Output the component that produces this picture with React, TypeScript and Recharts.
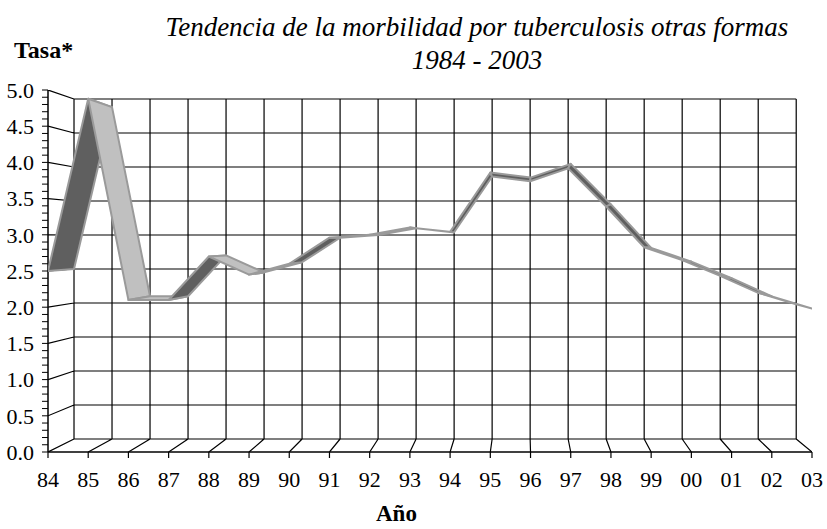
import { ComposedChart, Line, XAxis, YAxis } from "recharts";

// años (eje X) y tasa de morbilidad
const years = ["84", "85", "86", "87", "88", "89", "90", "91", "92", "93", "94", "95", "96", "97", "98", "99", "00", "01", "02", "03"];
const tasa = [2.5, 4.88, 2.1, 2.1, 2.7, 2.45, 2.6, 2.96, 3.0, 3.1, 3.04, 3.86, 3.79, 3.98, 3.42, 2.82, 2.63, 2.4, 2.15, 1.98];
const majorTicks = [0, 0.5, 1, 1.5, 2, 2.5, 3, 3.5, 4, 4.5, 5];
const minorTicks = Array.from({ length: 51 }, (_, i) => i / 10);

const W = 827;
const H = 529;
const FONT = "Liberation Serif";

// simple 3D projection: z=0 front wall, z=1 back wall (in front-axis units)
const DX0 = 0.6468;
const DXK = 0.0547;
const DY0 = 0.1796;
const DYK = 0.0608;
const P = (i: number, v: number, z: number) => ({
  x: i + z * (DX0 - DXK * i),
  y: v + z * (DY0 - DYK * v),
});

type Pt = { x: number; y: number | null };

// wall, side and floor grid as one broken polyline
const segments: [Pt, Pt][] = [];
majorTicks.forEach((v) => segments.push([P(0, v, 1), P(19, v, 1)]));
years.forEach((_, i) => segments.push([P(i, 0, 1), P(i, 5, 1)]));
majorTicks.forEach((v) => segments.push([P(0, v, 0), P(0, v, 1)]));
years.forEach((_, i) => segments.push([P(i, 0, 0), P(i, 0, 1)]));
const gridData: Pt[] = [];
segments.forEach(([a, b]) => {
  gridData.push(a, b, { x: b.x, y: null });
});

// ribbon faces: 4 vertices per segment
const ribbonData: Pt[] = [];
for (let i = 0; i < tasa.length - 1; i++) {
  ribbonData.push(P(i, tasa[i], 0), P(i + 1, tasa[i + 1], 0), P(i + 1, tasa[i + 1], 1), P(i, tasa[i], 1));
}

const renderFace = (props: any) => {
  const { index, points } = props;
  if (index % 4 !== 0 || !points) return <g key={`f-${index}`} />;
  const q = points.slice(index, index + 4);
  if (q.length < 4) return <g key={`f-${index}`} />;
  const ax = q[1].x - q[0].x;
  const ay = q[1].y - q[0].y;
  const bx = q[3].x - q[0].x;
  const by = q[3].y - q[0].y;
  const cross = ax * by - ay * bx;
  const fill = cross > 0 ? "#5f5f5f" : "#c0c0c0";
  return (
    <polygon
      key={`f-${index}`}
      points={q.map((p: any) => `${p.x},${p.y}`).join(" ")}
      fill={fill}
      stroke="#9a9a9a"
      strokeWidth={2}
      strokeLinejoin="round"
    />
  );
};

const YTick = (props: any) => {
  const { x, y, payload } = props;
  const v = payload.value as number;
  if (Math.round(v * 10) % 5 !== 0) return <g />;
  return (
    <text x={x - 2} y={y} dy="0.35em" textAnchor="end" style={{ fontFamily: FONT, fontSize: 22 }} fill="#000">
      {v.toFixed(1)}
    </text>
  );
};

const XTick = (props: any) => {
  const { x, y, payload } = props;
  return (
    <text x={x} y={y} dy="0.71em" textAnchor="middle" style={{ fontFamily: FONT, fontSize: 22 }} fill="#000">
      {years[payload.value]}
    </text>
  );
};

export default function App() {
  return (
    <div style={{ position: "absolute", left: 0, top: 0, width: W, height: H, background: "#fff", fontFamily: FONT }}>
      <div style={{ position: "absolute", left: 0, width: 954, top: 11, textAlign: "center", fontStyle: "italic", fontSize: 27, lineHeight: "33px" }}>
        Tendencia de la morbilidad por tuberculosis otras formas
        <br />
        1984 - 2003
      </div>
      <div style={{ position: "absolute", left: 14, top: 38, fontWeight: "bold", fontSize: 24, lineHeight: "24px" }}>Tasa*</div>
      <div style={{ position: "absolute", left: 376, top: 504, fontWeight: "bold", fontSize: 23, lineHeight: "20px" }}>Año</div>
      <ComposedChart width={W} height={H} margin={{ top: 90, right: 15, bottom: 47, left: 0 }}>
        <XAxis
          type="number"
          dataKey="x"
          domain={[0, 19]}
          ticks={years.map((_, i) => i)}
          interval={0}
          allowDataOverflow
          height={30}
          tickSize={6}
          tickMargin={13}
          tick={<XTick />}
          axisLine={{ stroke: "#000", strokeWidth: 1.5 }}
          tickLine={{ stroke: "#000", strokeWidth: 1.2 }}
        />
        <YAxis
          type="number"
          domain={[0, 5]}
          ticks={minorTicks}
          interval={0}
          allowDataOverflow
          width={48}
          tickSize={6}
          tickMargin={6}
          tick={<YTick />}
          axisLine={{ stroke: "#000", strokeWidth: 1.5 }}
          tickLine={{ stroke: "#000", strokeWidth: 1 }}
        />
        <Line
          data={gridData}
          dataKey="y"
          stroke="#000"
          strokeWidth={1.2}
          dot={false}
          activeDot={false}
          isAnimationActive={false}
        />
        <Line
          data={ribbonData}
          dataKey="y"
          stroke="none"
          dot={renderFace}
          activeDot={false}
          isAnimationActive={false}
        />
      </ComposedChart>
    </div>
  );
}
